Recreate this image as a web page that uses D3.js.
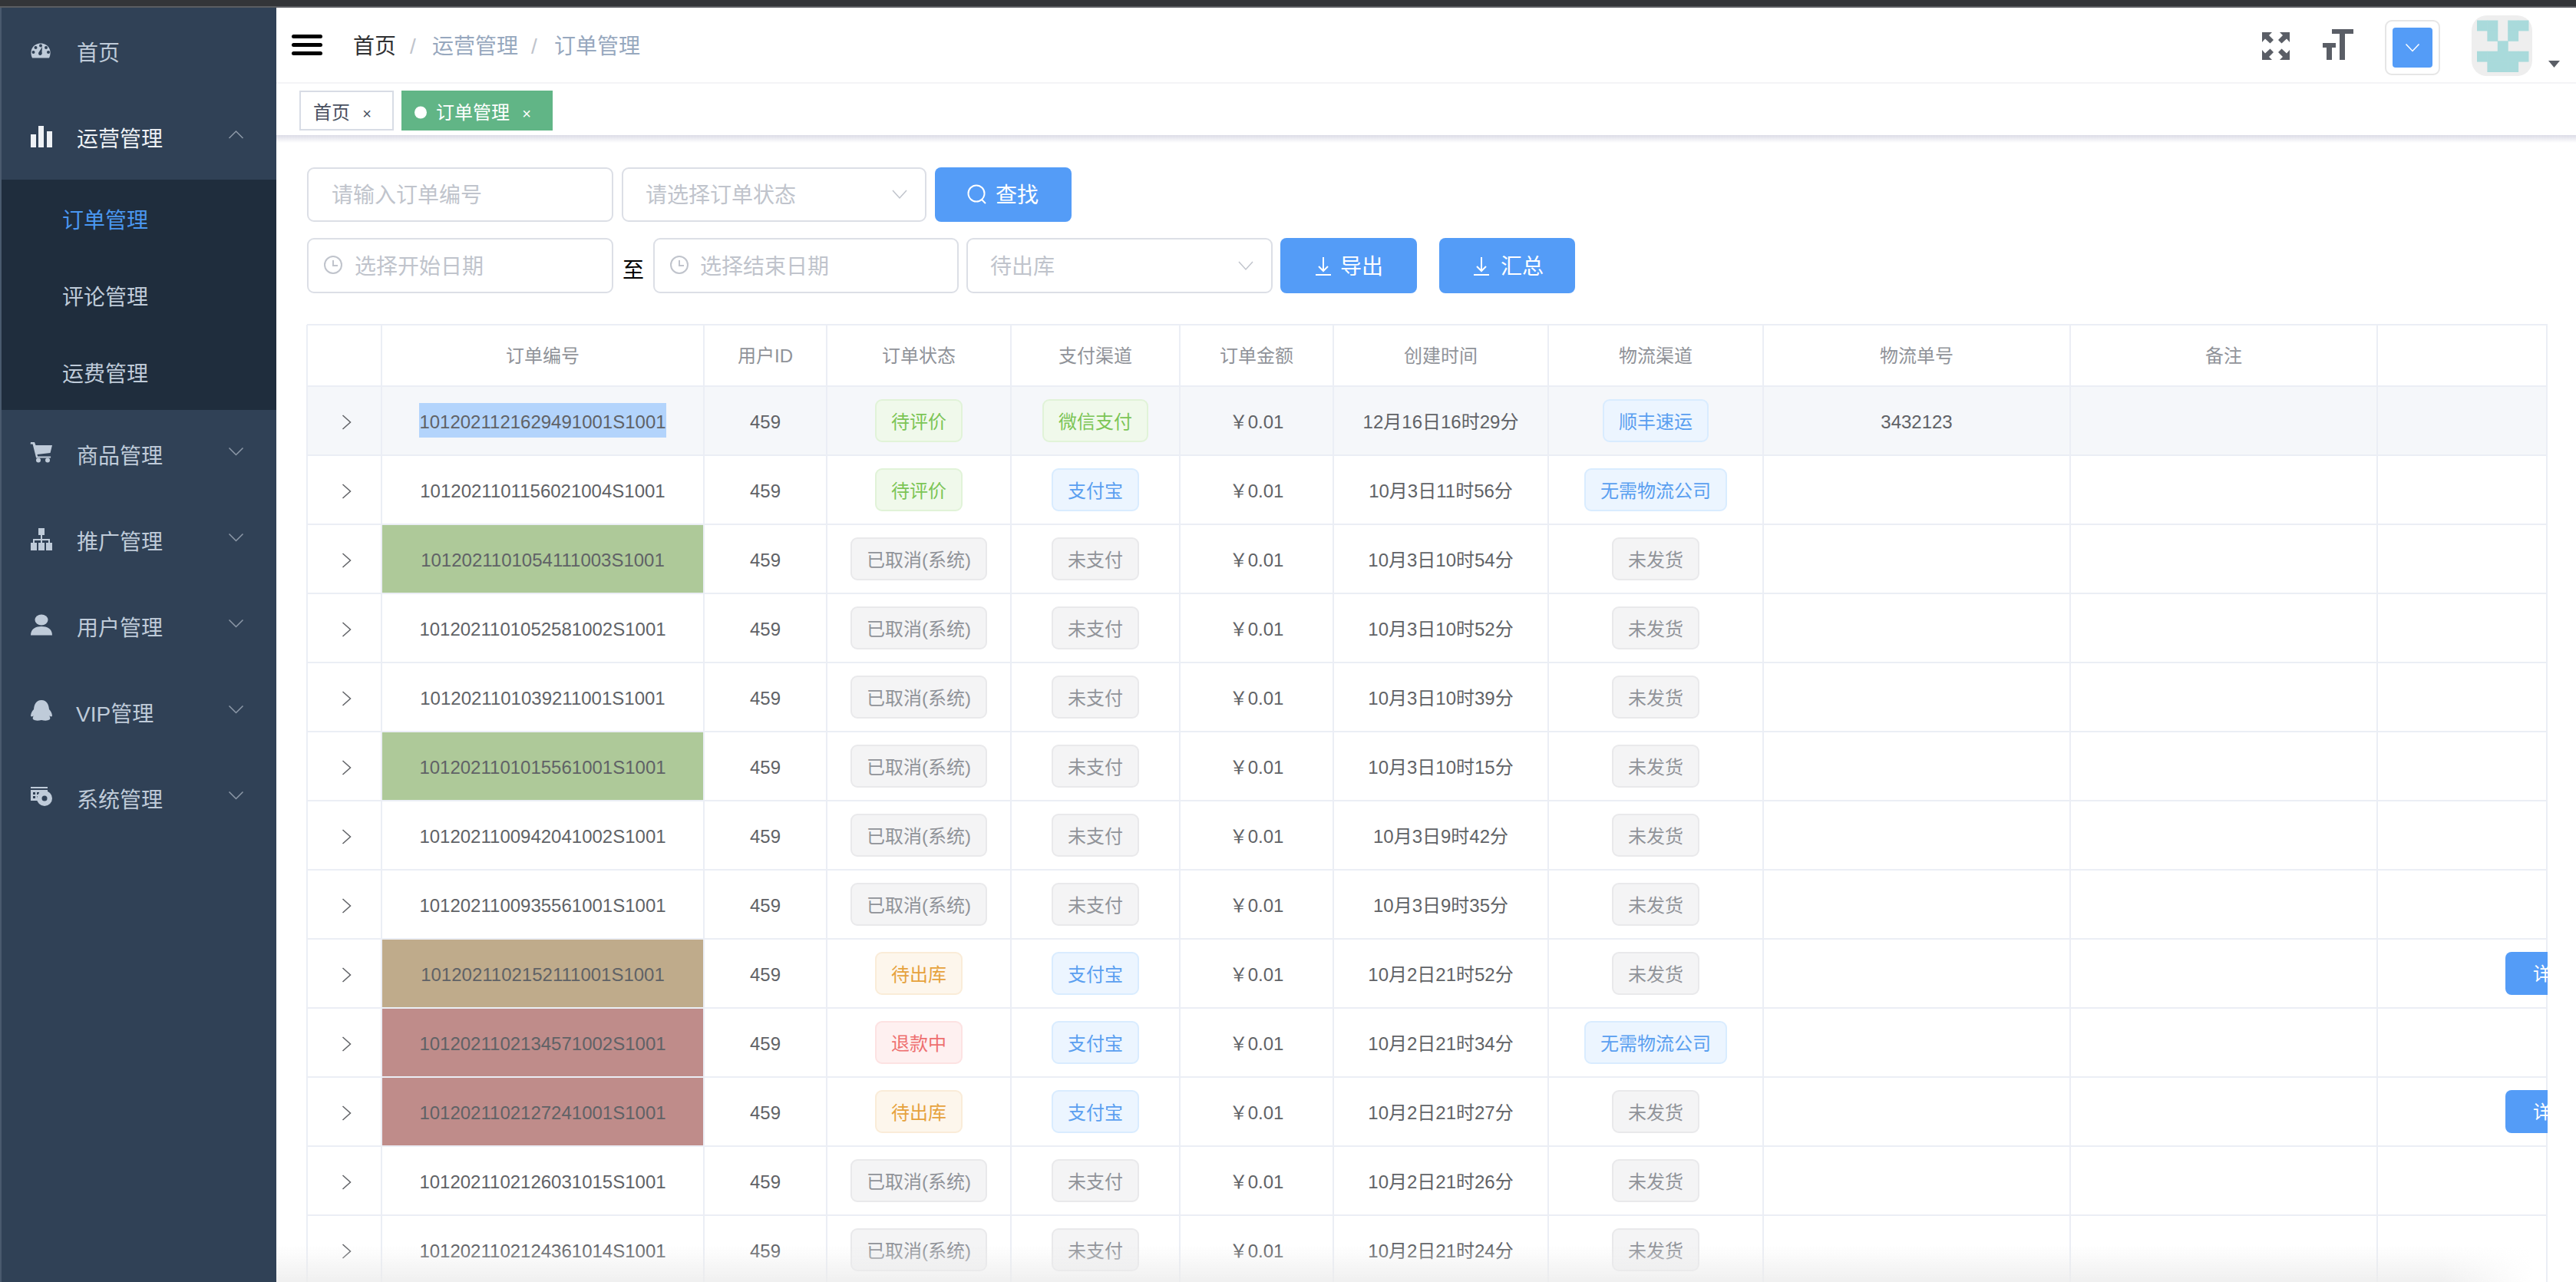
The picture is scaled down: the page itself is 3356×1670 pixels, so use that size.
<!DOCTYPE html>
<html>
<head>
<meta charset="utf-8">
<title>订单管理</title>
<script src="https://cdn.jsdelivr.net/npm/d3@7"></script>
<style>
	html, body { margin: 0; padding: 0; background: #fff; overflow: hidden; }
	svg { display: block; }
	text { font-family: "Liberation Sans", "Noto Sans CJK SC", sans-serif; }
</style>
</head>
<body>
<svg id="page" width="3356" height="1670"></svg>
<script>
const menuLabels = ['首页', '运营管理', '商品管理', '推广管理', '用户管理', 'VIP管理', '系统管理'];
const subMenuLabels = ['订单管理', '评论管理', '运费管理'];
const crumbLabels = ['首页', '运营管理', '订单管理'];

const columnLabels = ['', '订单编号', '用户ID', '订单状态', '支付渠道', '订单金额', '创建时间', '物流渠道', '物流单号', '备注', ''];

const orderIds = [
	'1012021121629491001S1001', '1012021101156021004S1001', '1012021101054111003S1001',
	'1012021101052581002S1001', '1012021101039211001S1001', '1012021101015561001S1001',
	'1012021100942041002S1001', '1012021100935561001S1001', '1012021102152111001S1001',
	'1012021102134571002S1001', '1012021102127241001S1001', '1012021102126031015S1001',
	'1012021102124361014S1001'
];
const userIds = [459, 459, 459, 459, 459, 459, 459, 459, 459, 459, 459, 459, 459];
const statuses = ['待评价', '待评价', '已取消(系统)', '已取消(系统)', '已取消(系统)', '已取消(系统)', '已取消(系统)', '已取消(系统)', '待出库', '退款中', '待出库', '已取消(系统)', '已取消(系统)'];
const payChannels = ['微信支付', '支付宝', '未支付', '未支付', '未支付', '未支付', '未支付', '未支付', '支付宝', '支付宝', '支付宝', '未支付', '未支付'];
const amounts = [0.01, 0.01, 0.01, 0.01, 0.01, 0.01, 0.01, 0.01, 0.01, 0.01, 0.01, 0.01, 0.01];
const createdAt = [
	'12月16日16时29分', '10月3日11时56分', '10月3日10时54分', '10月3日10时52分', '10月3日10时39分',
	'10月3日10时15分', '10月3日9时42分', '10月3日9时35分', '10月2日21时52分', '10月2日21时34分',
	'10月2日21时27分', '10月2日21时26分', '10月2日21时24分'
];
const shipChannels = ['顺丰速运', '无需物流公司', '未发货', '未发货', '未发货', '未发货', '未发货', '未发货', '未发货', '无需物流公司', '未发货', '未发货', '未发货'];
const trackingNos = ['3432123', '', '', '', '', '', '', '', '', '', '', '', ''];
const cellMarks = ['', '', 'green', '', '', 'green', '', '', 'tan', 'red', 'red', '', ''];
const detailRows = [8, 10];

const columnWidths = [97, 420, 160, 240, 220, 200, 280, 280, 400, 400, 222];
const tableLeft = 400;
const tableTop = 423;
const headHeight = 80;
const rowHeight = 90;
const tableRight = 3319;

const BLUE = '#549cf7';
const GREY_ICON = '#5a5e66';
const SIDE_TEXT = '#bfcbd9';

const svg = d3.select('#page');

const columnEdges = d3.cumsum([tableLeft].concat(columnWidths));
const x = d3.scaleLinear().domain(d3.range(columnEdges.length)).range(columnEdges);
const y = d3.scaleBand()
	.domain(d3.range(orderIds.length))
	.range([tableTop + headHeight, tableTop + headHeight + rowHeight * orderIds.length]);
const columnMid = i => (x(i) + x(i + 1)) / 2;

const tagKind = d3.scaleOrdinal()
	.domain(['待评价', '微信支付', '已取消(系统)', '未支付', '未发货', '待出库', '退款中', '支付宝', '顺丰速运', '无需物流公司'])
	.range(['green', 'green', 'grey', 'grey', 'grey', 'orange', 'red', 'blue', 'blue', 'blue']);
const tagFill = d3.scaleOrdinal(['green', 'grey', 'orange', 'red', 'blue'], ['#f0f9eb', '#f4f4f5', '#fdf6ec', '#fef0f0', '#ecf5ff']);
const tagStroke = d3.scaleOrdinal(['green', 'grey', 'orange', 'red', 'blue'], ['#e1f3d8', '#e9e9eb', '#faecd8', '#fde2e2', '#d9ecff']);
const tagText = d3.scaleOrdinal(['green', 'grey', 'orange', 'red', 'blue'], ['#7cc556', '#909399', '#e6a23c', '#ee6f6f', '#5a9ff0']);
const markFill = d3.scaleOrdinal(['green', 'tan', 'red'], ['#aec999', '#bfab8b', '#bf8c8a']);

function label(parent, px, py, str, size, fill, anchor) {
	return parent.append('text')
		.attr('x', px)
		.attr('y', py + 2)
		.attr('dy', '0.35em')
		.attr('font-size', size)
		.attr('fill', fill)
		.attr('text-anchor', anchor || 'start')
		.text(str);
}

function box(parent, bx, by, w, h, fill, stroke, radius) {
	return parent.append('rect')
		.attr('x', bx + (stroke ? 1 : 0))
		.attr('y', by + (stroke ? 1 : 0))
		.attr('width', w - (stroke ? 2 : 0))
		.attr('height', h - (stroke ? 2 : 0))
		.attr('rx', radius || 0)
		.attr('fill', fill)
		.attr('stroke', stroke || 'none')
		.attr('stroke-width', stroke ? 2 : 0);
}

// halfH below zero turns the chevron upwards
function chevron(parent, cx, cy, halfW, halfH, stroke, width) {
	parent.append('path')
		.attr('d', `M${cx - halfW},${cy - halfH}L${cx},${cy + halfH}L${cx + halfW},${cy - halfH}`)
		.attr('fill', 'none')
		.attr('stroke', stroke)
		.attr('stroke-width', width || 1.5);
}

// ---------- defs
const defs = svg.append('defs');
defs.append('clipPath').attr('id', 'tableClip')
	.append('rect').attr('x', 0).attr('y', 0).attr('width', tableRight).attr('height', 1670);

const headerShadow = defs.append('linearGradient').attr('id', 'headerShadow').attr('x1', 0).attr('x2', 0).attr('y1', 0).attr('y2', 1);
headerShadow.append('stop').attr('offset', 0).attr('stop-color', '#dcdce6');
headerShadow.append('stop').attr('offset', 1).attr('stop-color', '#ffffff');

const bottomFade = defs.append('linearGradient').attr('id', 'bottomFade').attr('x1', 0).attr('x2', 0).attr('y1', 0).attr('y2', 1);
bottomFade.append('stop').attr('offset', 0).attr('stop-color', '#ececec').attr('stop-opacity', 0);
bottomFade.append('stop').attr('offset', 1).attr('stop-color', '#ececec').attr('stop-opacity', 0.8);

const fadeSide = defs.append('linearGradient').attr('id', 'fadeSide')
	.attr('gradientUnits', 'userSpaceOnUse').attr('x1', 3180).attr('x2', 3300).attr('y1', 0).attr('y2', 0);
fadeSide.append('stop').attr('offset', 0).attr('stop-color', '#fff');
fadeSide.append('stop').attr('offset', 1).attr('stop-color', '#000');
defs.append('mask').attr('id', 'fadeMask').attr('maskUnits', 'userSpaceOnUse')
	.attr('x', 360).attr('y', 1600).attr('width', 2996).attr('height', 70)
	.append('rect').attr('x', 360).attr('y', 1600).attr('width', 2996).attr('height', 70).attr('fill', 'url(#fadeSide)');

// ---------- window strip and sidebar
box(svg, 0, 0, 3356, 8, '#333538');
box(svg, 0, 8, 3356, 2, '#5b5d61');

const side = svg.append('g');
box(side, 0, 10, 360, 1660, '#304156');
box(side, 0, 10, 2, 1660, '#4a5a6e');
box(side, 2, 234, 358, 300, '#1f2d3d');

const menuY = d3.scaleOrdinal(menuLabels, [67, 179, 592, 704, 816, 928, 1040]);
menuLabels.forEach((name, i) => {
	label(side, name === 'VIP管理' ? 99 : 100, menuY(name), name, 28, i === 1 ? '#eef1f5' : SIDE_TEXT);
	if (i === 1) chevron(side, 307.5, 175.5, 9, -4.5, '#8d99a8', 1.5);
	if (i > 1) chevron(side, 307.5, menuY(name) - 4, 9, 4.5, '#8d99a8', 1.5);
});

const subY = d3.scalePoint().domain(subMenuLabels).range([285, 485]);
subMenuLabels.forEach((name, i) => {
	label(side, 81, subY(name), name, 28, i === 0 ? '#4a97f0' : SIDE_TEXT);
});

// sidebar icons
const icons = side.append('g').attr('fill', SIDE_TEXT);
// gauge
icons.append('path').attr('d', 'M42,75.500 C37.500,66 43,56.500 53,56.500 C63,56.500 68.500,66 64,75.500 Z')
	.attr('id', 'gaugeBody');
const gaugeHoles = [[43.500, 68], [46.500, 62], [53, 59.500], [60, 62], [63, 68]];
icons.selectAll('.gaugeHole').data(gaugeHoles).enter()
	.append('circle')
	.attr('cx', d => d[0])
	.attr('cy', d => d[1])
	.attr('r', 2)
	.attr('fill', '#304156');
icons.append('path').attr('d', 'M52,72 C50,72 49.500,68.500 51,67.500 L55,61 L54.500,68 C55.500,70 54,72 52,72 Z').attr('fill', '#304156');
// bars
box(icons, 40, 175, 7, 17, '#eef1f5');
box(icons, 50, 164, 7, 28, '#eef1f5');
box(icons, 61, 171, 7, 21, '#eef1f5');
// cart
const cart = icons.append('g').attr('transform', 'translate(0,2)');
cart.append('path').attr('d', 'M40,574 h5 l1.500,4 h21.500 l-2.500,10 l-17,2 l.6,2.500 h17 v2 h-19 l-4.500,-18 h-3 Z');
cart.append('circle').attr('cx', 50).attr('cy', 597.500).attr('r', 3);
cart.append('circle').attr('cx', 62).attr('cy', 597.500).attr('r', 3);
// sitemap
const sitemap = icons.append('g').attr('transform', 'translate(0,10)');
box(sitemap, 50, 678, 8, 9);
box(sitemap, 53, 686, 2, 6);
box(sitemap, 44, 692, 20, 2);
box(sitemap, 43, 692, 2, 6);
box(sitemap, 53, 692, 2, 6);
box(sitemap, 63, 692, 2, 6);
box(sitemap, 40, 697, 8, 10);
box(sitemap, 50, 697, 8, 10);
box(sitemap, 60, 697, 8, 10);
// user
const user = icons.append('g').attr('transform', 'translate(0,17.500)');
user.append('ellipse').attr('cx', 54).attr('cy', 790).attr('rx', 8.500).attr('ry', 7);
user.append('path').attr('d', 'M40,810 C40,801 47,798.500 54,798.500 C61,798.500 68,801 68,810 Z');
// qq
const qq = icons.append('g').attr('transform', 'translate(0,25)');
qq.append('path').attr('d', 'M54,887 C61,887 63.500,893 64,899 C66,901 68,904 68,908 C66,909 65,908 64.500,907 C64.500,909 66,910 65,912 C62,914 59,914 54,913 C49,914 46,914 43,912 C42,910 43.500,909 43.500,907 C43,908 42,909 40,908 C40,904 42,901 44,899 C44.500,893 47,887 54,887 Z');
// system settings
const system = icons.append('g').attr('transform', 'translate(0,33)');
box(system, 40, 992, 22, 2);
system.append('path').attr('d', 'M40,996 h22 v5 h-7 v4 h-3 v5 h-12 Z M43,999 v3 h3 v-3 Z M48,999 v3 h3 v-3 Z M43,1004 v3 h3 v-3 Z M48,1004 v3 h3 v-3 Z').attr('fill-rule', 'evenodd');
system.append('circle').attr('cx', 58).attr('cy', 1007).attr('r', 10);
system.append('circle').attr('cx', 58).attr('cy', 1007).attr('r', 3.500).attr('fill', '#304156');

// ---------- header
const head = svg.append('g');
[45, 56, 67].forEach(top => {
	box(head, 380, top, 40, 5, '#000').attr('rx', 2.500);
});
label(head, 460, 58, crumbLabels[0], 28, '#303133');
label(head, 538, 58, '/', 28, '#c0c4cc', 'middle');
label(head, 563, 58, crumbLabels[1], 28, '#97a8be');
label(head, 696, 58, '/', 28, '#c0c4cc', 'middle');
label(head, 722, 58, crumbLabels[2], 28, '#97a8be');
box(head, 360, 107, 2996, 2, '#f4f4f6');

// fullscreen arrows
const fullscreen = head.append('g').attr('fill', GREY_ICON);
[[2947, 42, 1, 1], [2983, 42, -1, 1], [2947, 78, 1, -1], [2983, 78, -1, -1]].forEach(c => {
	const sx = c[2], sy = c[3];
	fullscreen.append('path')
		.attr('d', `M${c[0]},${c[1]} l${sx * 13},0 l${-sx * 4},${sy * 4} l${sx * 6},${sy * 6} l${-sx * 4.5},${sy * 4.5} l${-sx * 6.500},${-sy * 6} l${-sx * 4},${sy * 4.500} Z`);
});

// font size glyph, drawn as blocks
box(head, 3038, 38, 28, 6, GREY_ICON);
box(head, 3048, 38, 7, 40, GREY_ICON);
box(head, 3026, 56, 17, 6, GREY_ICON);
box(head, 3031, 56, 7, 22, GREY_ICON);

// colour picker
box(head, 3107, 26, 72, 72, '#fff', '#e6e6e6', 8);
box(head, 3117, 36, 52, 52, BLUE, null, 4);
chevron(head, 3143, 62, 8.500, 4.500, '#fff', 1.5);

// avatar, five by five blocks
box(head, 3220, 20, 79, 79, '#eeeeee', null, 20);
const avatarCells = [[0, 0], [1, 0], [3, 0], [4, 0], [1, 1], [3, 1], [2, 2], [0, 3], [1, 3], [2, 3], [3, 3], [4, 3], [1, 4], [2, 4], [3, 4]];
const avatarX = d3.scaleLinear().domain([0, 5]).range([3227, 3294]);
const avatarY = d3.scaleLinear().domain([0, 5]).range([26.500, 93.500]);
head.selectAll('.avatar').data(avatarCells).enter()
	.append('rect')
	.attr('x', d => avatarX(d[0]))
	.attr('y', d => avatarY(d[1]))
	.attr('width', avatarX(1) - avatarX(0) + 0.5)
	.attr('height', avatarY(1) - avatarY(0) + 0.5)
	.attr('fill', '#a9dadb');
head.append('path').attr('d', 'M3320,79 h15 l-7.500,9 Z').attr('fill', GREY_ICON);

// ---------- tabs
box(head, 360, 176, 2996, 10, 'url(#headerShadow)');
box(head, 390, 118, 123, 52, '#fff', '#d8dce5');
label(head, 408, 145, '首页', 24, '#495060');
label(head, 478, 146, '×', 20, '#495060', 'middle');
box(head, 523, 118, 197, 52, '#61b586');
head.append('circle').attr('cx', 548).attr('cy', 146.500).attr('r', 8).attr('fill', '#fff');
label(head, 568, 145, '订单管理', 24, '#fff');
label(head, 686, 146, '×', 20, '#fff', 'middle');

// ---------- filter form
const form = svg.append('g');
const BORDER = '#dcdfe6';
const HOLDER = '#c0c4cc';

function clockIcon(cx, cy) {
	form.append('circle').attr('cx', cx).attr('cy', cy).attr('r', 11)
		.attr('fill', 'none').attr('stroke', HOLDER).attr('stroke-width', 2);
	form.append('path').attr('d', `M${cx},${cy - 6}V${cy + 1}H${cx + 6}`)
		.attr('fill', 'none').attr('stroke', HOLDER).attr('stroke-width', 2);
}

function downloadIcon(cx, cy) {
	form.append('path').attr('d', `M${cx},${cy - 11}V${cy + 6}M${cx - 6},${cy + 1}L${cx},${cy + 7}L${cx + 6},${cy + 1}M${cx - 10},${cy + 12}H${cx + 10}`)
		.attr('fill', 'none').attr('stroke', '#fff').attr('stroke-width', 2);
}

box(form, 400, 218, 399, 71, '#fff', BORDER, 8);
label(form, 432, 252, '请输入订单编号', 28, HOLDER);

box(form, 810, 218, 397, 71, '#fff', BORDER, 8);
label(form, 841, 252, '请选择订单状态', 28, HOLDER);
chevron(form, 1172, 253, 9, 5, HOLDER, 1.5);

box(form, 1218, 218, 178, 71, BLUE, null, 8);
form.append('circle').attr('cx', 1272).attr('cy', 252).attr('r', 10.500)
	.attr('fill', 'none').attr('stroke', '#fff').attr('stroke-width', 2);
form.append('path').attr('d', 'M1279,260L1284,265').attr('stroke', '#fff').attr('stroke-width', 2);
label(form, 1297, 252, '查找', 28, '#fff');

box(form, 400, 310, 399, 72, '#fff', BORDER, 8);
clockIcon(434, 345);
label(form, 462, 345, '选择开始日期', 28, HOLDER);

label(form, 825, 350, '至', 28, '#000', 'middle');

box(form, 851, 310, 398, 72, '#fff', BORDER, 8);
clockIcon(885, 345);
label(form, 912, 345, '选择结束日期', 28, HOLDER);

box(form, 1259, 310, 399, 72, '#fff', BORDER, 8);
label(form, 1290, 345, '待出库', 28, HOLDER);
chevron(form, 1623, 346, 9, 5, HOLDER, 1.5);

box(form, 1668, 310, 178, 72, BLUE, null, 8);
downloadIcon(1724, 346);
label(form, 1746, 345, '导出', 28, '#fff');

box(form, 1875, 310, 177, 72, BLUE, null, 8);
downloadIcon(1930, 346);
label(form, 1955, 345, '汇总', 28, '#fff');

// ---------- table
const table = svg.append('g').attr('clip-path', 'url(#tableClip)');
const LINE = '#ebeef5';
const CELL = '#606266';

// hover row and coloured id cells
box(table, tableLeft, y(0), tableRight - tableLeft, rowHeight, '#f5f7fa');

table.selectAll('.mark')
	.data(d3.range(orderIds.length).filter(i => cellMarks[i]))
	.enter()
	.append('rect')
	.attr('x', x(1) + 1)
	.attr('y', i => y(i) + 1)
	.attr('width', x(2) - x(1) - 2)
	.attr('height', y.bandwidth() - 2)
	.attr('fill', i => markFill(cellMarks[i]));

// selected text in the first row
box(table, 546, 525, 322, 45, '#b3d4fc');

// grid
table.selectAll('.hline')
	.data(d3.range(orderIds.length + 1))
	.enter()
	.append('line')
	.attr('x1', tableLeft)
	.attr('x2', tableRight)
	.attr('y1', i => y(0) + i * y.bandwidth())
	.attr('y2', i => y(0) + i * y.bandwidth())
	.attr('stroke', LINE)
	.attr('stroke-width', 2);
table.append('line')
	.attr('x1', tableLeft).attr('x2', tableRight)
	.attr('y1', tableTop).attr('y2', tableTop)
	.attr('stroke', LINE).attr('stroke-width', 2);
table.selectAll('.vline')
	.data(d3.range(columnEdges.length).filter(i => columnEdges[i] <= tableRight))
	.enter()
	.append('line')
	.attr('x1', i => x(i))
	.attr('x2', i => x(i))
	.attr('y1', tableTop)
	.attr('y2', 1670)
	.attr('stroke', LINE)
	.attr('stroke-width', 2);
table.append('line')
	.attr('x1', tableRight - 1).attr('x2', tableRight - 1)
	.attr('y1', tableTop).attr('y2', 1670)
	.attr('stroke', LINE).attr('stroke-width', 2);

// column heads
columnLabels.forEach((name, i) => {
	if (name) label(table, columnMid(i), tableTop + headHeight / 2 - 1, name, 24, '#909399', 'middle');
});

function tag(i, column, str) {
	const kind = tagKind(str);
	const probe = label(table, columnMid(column), y(i) + rowHeight / 2, str, 24, tagText(kind), 'middle');
	const w = probe.node().getComputedTextLength() + 42;
	box(table, columnMid(column) - w / 2, y(i) + 17, w, 56, tagFill(kind), tagStroke(kind), 8);
	probe.raise();
}

// rows
orderIds.forEach((id, i) => {
	const mid = y(i) + rowHeight / 2;
	table.append('path')
		.attr('d', `M${columnMid(0) - 2},${mid - 9 + 2}L${columnMid(0) + 8},${mid + 2}L${columnMid(0) - 2},${mid + 9 + 2}`)
		.attr('fill', 'none').attr('stroke', CELL).attr('stroke-width', 1.5);
	label(table, columnMid(1), mid, id, 24, CELL, 'middle');
	label(table, columnMid(2), mid, userIds[i], 24, CELL, 'middle');
	tag(i, 3, statuses[i]);
	tag(i, 4, payChannels[i]);
	label(table, columnMid(5), mid, '￥' + amounts[i].toFixed(2), 24, CELL, 'middle');
	label(table, columnMid(6), mid, createdAt[i], 24, CELL, 'middle');
	tag(i, 7, shipChannels[i]);
	if (trackingNos[i]) label(table, columnMid(8), mid, trackingNos[i], 24, CELL, 'middle');
});

// detail buttons, cut by the right edge of the table
detailRows.forEach(i => {
	box(table, 3264, y(i) + 17, 120, 56, BLUE, null, 8);
	label(table, 3300, y(i) + rowHeight / 2 - 1, '详情', 24, '#fff');
});

// page fade at the bottom
box(svg, 360, 1622, 2996, 48, 'url(#bottomFade)').attr('mask', 'url(#fadeMask)');
</script>
</body>
</html>
